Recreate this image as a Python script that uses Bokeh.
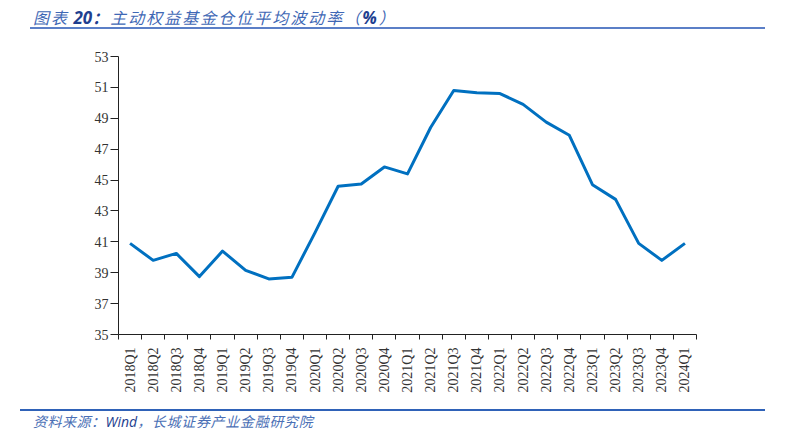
import math
from bokeh.plotting import figure
from bokeh.models import ColumnDataSource, FixedTicker, LinearAxis, Div, Range1d
from bokeh.layouts import column
from bokeh.embed import file_html
from bokeh.resources import INLINE

quarters = ["2018Q1", "2018Q2", "2018Q3", "2018Q4", "2019Q1", "2019Q2", "2019Q3", "2019Q4",
            "2020Q1", "2020Q2", "2020Q3", "2020Q4", "2021Q1", "2021Q2", "2021Q3", "2021Q4",
            "2022Q1", "2022Q2", "2022Q3", "2022Q4", "2023Q1", "2023Q2", "2023Q3", "2023Q4",
            "2024Q1"]
volatility = [40.9, 39.8, 40.25, 38.75, 40.4, 39.15, 38.6, 38.7,
              41.6, 44.6, 44.75, 45.85, 45.4, 48.4, 50.8, 50.65,
              50.6, 49.9, 48.75, 47.9, 44.7, 43.75, 40.9, 39.8,
              40.9]
y_ticks = [35, 37, 39, 41, 43, 45, 47, 49, 51, 53]

title_text = "主动权益基金仓位平均波动率"
source_text = "长城证券产业金融研究院"

xpos = [i + 0.5 for i in range(len(quarters))]
src = ColumnDataSource(dict(x=xpos, y=volatility, q=quarters))

p = figure(width=790, height=375, output_backend="svg", toolbar_location=None,
           x_range=Range1d(0, len(quarters)), y_range=Range1d(35, 53),
           x_axis_type=None, y_axis_type=None, margin=0,
           min_border_left=118, min_border_right=94, min_border_top=22, min_border_bottom=75)
p.outline_line_color = None
p.grid.visible = False
p.background_fill_color = "white"

p.line("x", "y", source=src, line_color="#0070C0", line_width=3, line_join="round")

tick_font = "Liberation Serif"

yaxis = LinearAxis(ticker=FixedTicker(ticks=y_ticks))
yaxis.axis_line_color = "#222222"
yaxis.major_tick_line_color = "#222222"
yaxis.major_tick_out = 8
yaxis.major_tick_in = 0
yaxis.minor_tick_line_color = None
yaxis.major_label_text_font = tick_font
yaxis.major_label_text_font_size = "14px"
yaxis.major_label_text_color = "#333333"
yaxis.major_label_standoff = 2
p.add_layout(yaxis, "left")

xaxis = LinearAxis(ticker=FixedTicker(ticks=xpos, minor_ticks=list(range(len(quarters) + 1))))
xaxis.major_label_overrides = {x: q for x, q in zip(xpos, quarters)}
xaxis.axis_line_color = "#222222"
xaxis.major_tick_line_color = None
xaxis.major_tick_out = 0
xaxis.major_tick_in = 0
xaxis.minor_tick_line_color = "#222222"
xaxis.minor_tick_out = 5
xaxis.minor_tick_in = 0
xaxis.major_label_orientation = math.pi / 2
xaxis.major_label_text_font = tick_font
xaxis.major_label_text_font_size = "14px"
xaxis.major_label_text_color = "#333333"
xaxis.major_label_standoff = 8
p.add_layout(xaxis, "below")

cjk = "'Noto Sans CJK SC'"
title_html = (
    '<div style="margin-left:30px;margin-top:7px;width:735px;height:22px;border-bottom:2px solid #5B7FC7;'
    'font-style:italic;font-size:16px;line-height:20px;white-space:nowrap;">'
    '<span style="padding-left:3px;color:#3F68B5;font-family:' + cjk + ';letter-spacing:2px;">图表</span>'
    '<span style="color:#1F3F8F;font-family:\'Open Sans\';font-weight:bold;font-size:17px;"> 20</span>'
    '<span style="color:#1F3F8F;font-family:' + cjk + ';font-weight:bold;letter-spacing:2px;">：</span>'
    '<span style="color:#3F68B5;font-family:' + cjk + ';letter-spacing:2px;">' + title_text + '（</span>'
    '<span style="color:#1F3F8F;font-family:\'Open Sans\';font-weight:bold;font-size:17px;letter-spacing:2px;">%</span>'
    '<span style="color:#3F68B5;font-family:' + cjk + ';">）</span>'
    '</div>'
)
title_div = Div(text=title_html, width=790, height=34, margin=0)

footer_html = (
    '<div style="margin-left:20px;width:745px;border-top:2px solid #2F62B8;padding-top:1px;'
    'font-style:italic;font-size:14px;line-height:18px;white-space:nowrap;">'
    '<span style="padding-left:13px;color:#4A6FB5;font-family:' + cjk + ';letter-spacing:0.5px;">资料来源：</span>'
    '<span style="color:#1F3F8F;font-family:\'Open Sans\';">Wind</span>'
    '<span style="color:#4A6FB5;font-family:' + cjk + ';letter-spacing:0.7px;">，' + source_text + '</span>'
    '</div>'
)
footer_div = Div(text=footer_html, width=790, height=30, margin=0)

layout = column(title_div, p, footer_div, spacing=0)

open("out.html", "w").write(file_html(layout, INLINE))
